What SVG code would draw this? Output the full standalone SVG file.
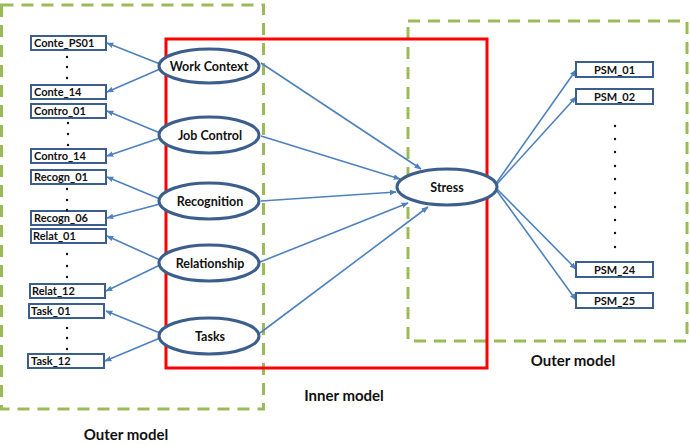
<svg xmlns="http://www.w3.org/2000/svg" width="690" height="444" viewBox="0 0 690 444">
<style>
.grn{fill:none;stroke:#9BBB59;stroke-width:3;stroke-dasharray:12 8}
.red{fill:none;stroke:#FF0000;stroke-width:3}
.ell{fill:#fff;stroke:#3B5E8C;stroke-width:3}
.box{fill:#fff;stroke:#3B5E8C;stroke-width:2}
.arr{stroke:#4F81BD;stroke-width:1.6;fill:none;marker-end:url(#ah)}
.bt{font-family:Lato,"Liberation Sans",sans-serif;font-weight:bold;font-size:11px;fill:#111}
.et{font-family:Lato,"Liberation Sans",sans-serif;font-weight:bold;font-size:12.5px;fill:#111;text-anchor:middle}
.lt{font-family:Lato,"Liberation Sans",sans-serif;font-weight:bold;font-size:15px;fill:#111;text-anchor:middle}
.dot{fill:#111}
</style>
<defs>
<marker id="ah" viewBox="0 0 10 10" refX="9" refY="5" markerWidth="7" markerHeight="7" orient="auto" markerUnits="userSpaceOnUse">
<path d="M0,1 L10,5 L0,9 z" fill="#4F81BD"/>
</marker>
</defs>
<rect width="690" height="444" fill="#fff"/>
<g id="outer-left"><rect class="grn" x="1.5" y="5" width="262" height="404"/></g>
<g id="outer-right"><rect class="grn" x="408" y="21" width="279" height="320"/></g>
<g id="inner"><rect class="red" x="166" y="39" width="321" height="329"/></g>
<g id="connectors">
<line class="arr" x1="160" y1="64" x2="107" y2="43"/>
<line class="arr" x1="160" y1="69" x2="107" y2="92"/>
<line class="arr" x1="160" y1="133" x2="107" y2="111"/>
<line class="arr" x1="160" y1="138" x2="107" y2="156"/>
<line class="arr" x1="160" y1="199" x2="107" y2="177"/>
<line class="arr" x1="160" y1="204" x2="107" y2="218"/>
<line class="arr" x1="160" y1="260" x2="107" y2="236"/>
<line class="arr" x1="160" y1="265" x2="106" y2="291"/>
<line class="arr" x1="160" y1="333" x2="106" y2="311"/>
<line class="arr" x1="160" y1="338" x2="105" y2="361"/>
<line class="arr" x1="261" y1="63" x2="421" y2="169"/>
<line class="arr" x1="261" y1="136" x2="400" y2="179"/>
<line class="arr" x1="261" y1="201" x2="396" y2="192"/>
<line class="arr" x1="260" y1="262" x2="408" y2="203"/>
<line class="arr" x1="260" y1="333" x2="428" y2="207"/>
<line class="arr" x1="497" y1="182" x2="576" y2="70"/>
<line class="arr" x1="497" y1="184" x2="576" y2="97"/>
<line class="arr" x1="497" y1="189" x2="576" y2="269"/>
<line class="arr" x1="497" y1="191" x2="576" y2="300"/>
</g>
<g id="work-context"><ellipse class="ell" cx="209" cy="66" rx="50" ry="17"/><text class="et" x="209" y="70.5">Work Context</text></g>
<g id="job-control"><ellipse class="ell" cx="209" cy="135" rx="50" ry="18"/><text class="et" x="210" y="139.5">Job Control</text></g>
<g id="recognition"><ellipse class="ell" cx="209" cy="201" rx="50" ry="18"/><text class="et" x="210" y="205.5">Recognition</text></g>
<g id="relationship"><ellipse class="ell" cx="209" cy="263" rx="50" ry="18"/><text class="et" x="210" y="267.5">Relationship</text></g>
<g id="tasks"><ellipse class="ell" cx="209" cy="336" rx="50" ry="18"/><text class="et" x="210" y="340.5">Tasks</text></g>
<g id="stress"><ellipse class="ell" cx="447" cy="187" rx="50" ry="18"/><text class="et" x="447" y="191.5">Stress</text></g>
<g id="conte-ps01"><rect class="box" x="31" y="36" width="75" height="14"/><text class="bt" x="34" y="47">Conte_PS01</text></g>
<g id="conte-14"><rect class="box" x="31" y="85" width="75" height="14"/><text class="bt" x="34" y="96">Conte_14</text></g>
<g id="contro-01"><rect class="box" x="31" y="104" width="75" height="14"/><text class="bt" x="34" y="115">Contro_01</text></g>
<g id="contro-14"><rect class="box" x="31" y="149" width="75" height="14"/><text class="bt" x="34" y="160">Contro_14</text></g>
<g id="recogn-01"><rect class="box" x="31" y="170" width="75" height="14"/><text class="bt" x="34" y="181">Recogn_01</text></g>
<g id="recogn-06"><rect class="box" x="31" y="211" width="75" height="14"/><text class="bt" x="34" y="222">Recogn_06</text></g>
<g id="relat-01"><rect class="box" x="31" y="229" width="75" height="14"/><text class="bt" x="33" y="240">Relat_01</text></g>
<g id="relat-12"><rect class="box" x="30" y="284" width="75" height="14"/><text class="bt" x="32" y="295">Relat_12</text></g>
<g id="task-01"><rect class="box" x="29" y="304" width="75" height="14"/><text class="bt" x="31" y="315">Task_01</text></g>
<g id="task-12"><rect class="box" x="28" y="354" width="76" height="14"/><text class="bt" x="31" y="365">Task_12</text></g>
<g id="psm-01"><rect class="box" x="576" y="62" width="77" height="15"/><text class="bt" x="614.5" y="73.5" text-anchor="middle">PSM_01</text></g>
<g id="psm-02"><rect class="box" x="576" y="89" width="77" height="15"/><text class="bt" x="614.5" y="100.5" text-anchor="middle">PSM_02</text></g>
<g id="psm-24"><rect class="box" x="576" y="262" width="77" height="15"/><text class="bt" x="614.5" y="273.5" text-anchor="middle">PSM_24</text></g>
<g id="psm-25"><rect class="box" x="576" y="293" width="77" height="15"/><text class="bt" x="614.5" y="304.5" text-anchor="middle">PSM_25</text></g>
<g id="dots">
<circle class="dot" cx="67" cy="57" r="1.2"/><circle class="dot" cx="67" cy="67" r="1.2"/><circle class="dot" cx="67" cy="78" r="1.2"/>
<circle class="dot" cx="68" cy="123" r="1.2"/><circle class="dot" cx="68" cy="134" r="1.2"/><circle class="dot" cx="68" cy="145" r="1.2"/>
<circle class="dot" cx="67" cy="189" r="1.2"/><circle class="dot" cx="67" cy="200" r="1.2"/><circle class="dot" cx="67" cy="210" r="1.2"/>
<circle class="dot" cx="67" cy="254" r="1.2"/><circle class="dot" cx="67" cy="266" r="1.2"/><circle class="dot" cx="67" cy="277" r="1.2"/>
<circle class="dot" cx="67" cy="328" r="1.2"/><circle class="dot" cx="67" cy="338" r="1.2"/><circle class="dot" cx="67" cy="349" r="1.2"/>
<circle class="dot" cx="615" cy="126" r="1.2"/><circle class="dot" cx="615" cy="139" r="1.2"/><circle class="dot" cx="615" cy="152" r="1.2"/><circle class="dot" cx="615" cy="166" r="1.2"/><circle class="dot" cx="615" cy="179" r="1.2"/><circle class="dot" cx="615" cy="193" r="1.2"/><circle class="dot" cx="615" cy="207" r="1.2"/><circle class="dot" cx="615" cy="220" r="1.2"/><circle class="dot" cx="615" cy="233" r="1.2"/><circle class="dot" cx="615" cy="247" r="1.2"/>
</g>
<g id="labels">
<text class="lt" x="126" y="440">Outer model</text>
<text class="lt" x="573" y="366">Outer model</text>
<text class="lt" x="344" y="401">Inner model</text>
</g>
</svg>
